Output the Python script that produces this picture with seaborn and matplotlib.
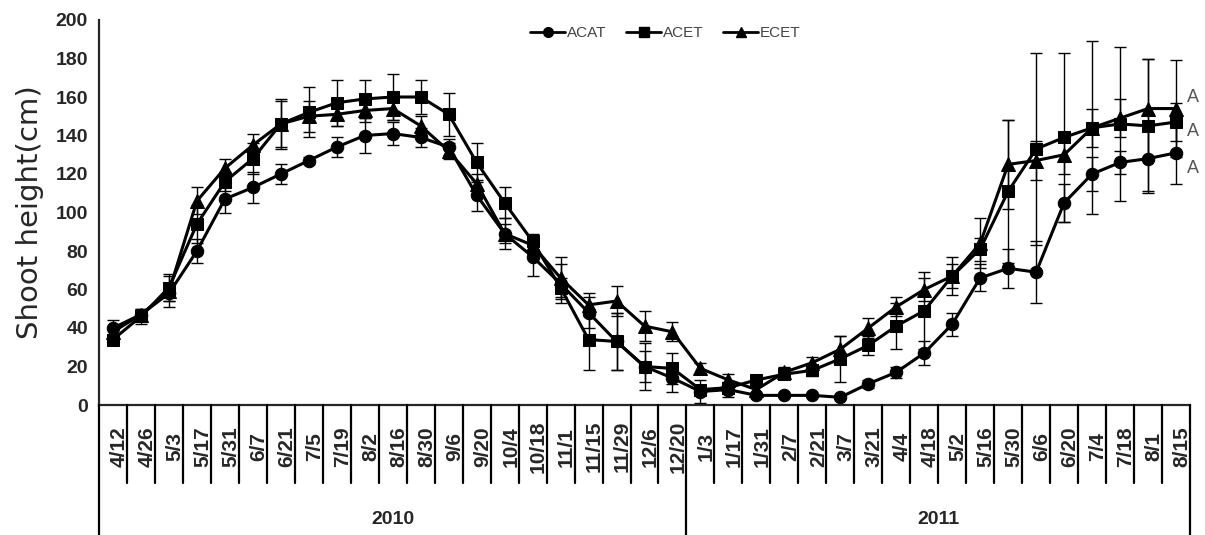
import matplotlib
matplotlib.use("Agg")
import matplotlib.pyplot as plt
import matplotlib.transforms as mtransforms
from matplotlib.lines import Line2D
import seaborn as sns
import numpy as np
import pandas as pd

dates = ["4/12","4/26","5/3","5/17","5/31","6/7","6/21","7/5","7/19","8/2","8/16","8/30",
         "9/6","9/20","10/4","10/18","11/1","11/15","11/29","12/6","12/20",
         "1/3","1/17","1/31","2/7","2/21","3/7","3/21","4/4","4/18","5/2","5/16","5/30",
         "6/6","6/20","7/4","7/18","8/1","8/15"]
years = ["2010", "2011"]
year_counts = [21, 18]

ACAT = [40,47,58,80,107,113,120,127,134,140,141,139,134,109,89,77,63,48,33,20,14,7,8,5,5,5,4,11,17,27,42,66,71,69,105,120,126,128,131]
ACET = [34,46,61,94,116,128,146,152,157,159,160,160,151,126,105,85,61,34,33,20,19,8,9,13,16,18,24,31,41,49,67,81,111,133,139,144,146,145,147]
ECET = [38,47,59,106,123,135,146,150,151,153,154,145,132,115,89,83,66,52,54,41,38,19,13,8,17,22,29,40,51,60,67,84,125,127,130,144,149,154,154]

ACAT_err = [4,3,4,6,7,8,5,2,5,9,6,5,4,8,8,10,10,8,15,8,7,6,4,1,1,1,1,2,3,6,6,7,10,16,10,9,6,17,16]
ACET_err = [2,4,7,10,5,8,13,13,12,10,12,9,11,10,8,4,5,16,15,12,8,2,2,2,2,3,12,5,12,20,10,6,37,50,44,45,40,35,10]
ECET_err = [3,2,8,7,5,6,12,8,6,6,6,5,4,5,5,4,11,6,8,8,5,3,3,2,3,3,7,5,5,6,6,13,23,10,10,10,10,26,25]

letters = ["A", "A", "A"]
letter_y = [160, 142, 123]

sns.set_style("white")
plt.rcParams["font.family"] = ["Liberation Sans", "DejaVu Sans"]

fig = plt.figure(figsize=(12.05, 5.35), dpi=100)
ax = fig.add_axes([99/1205, 130/535, (1190-99)/1205, 385/535])

x = np.arange(len(dates))
series = [("ACAT", ACAT, ACAT_err, "o", 9),
          ("ACET", ACET, ACET_err, "s", 9),
          ("ECET", ECET, ECET_err, "^", 9.5)]

for name, vals, err, mk, ms in series:
    ax.errorbar(x, vals, yerr=err, fmt="none", ecolor="black", elinewidth=1.0,
                capsize=4, capthick=1.0, zorder=2)
for name, vals, err, mk, ms in series:
    df = pd.DataFrame({"x": x, "y": vals})
    sns.lineplot(data=df, x="x", y="y", ax=ax, color="black", linewidth=2.2,
                 marker=mk, markersize=ms, markeredgecolor="black",
                 markerfacecolor="black", zorder=3)

ax.set_xlim(-0.5, len(dates) - 0.5)
ax.set_ylim(0, 200)
ax.set_yticks(range(0, 201, 20))
ax.set_xlabel("")
ax.set_ylabel("Shoot height(cm)", fontsize=21, family=["DejaVu Sans"], labelpad=8)

for s in ["top", "right"]:
    ax.spines[s].set_visible(False)
ax.spines["left"].set_linewidth(1.6)
ax.spines["bottom"].set_linewidth(1.6)
ax.tick_params(axis="y", direction="in", length=7, width=1.4, labelsize=14, pad=8)
for lab in ax.get_yticklabels():
    lab.set_fontweight("bold")

ax.set_xticks(x)
ax.set_xticklabels(dates, rotation=90, fontsize=15, fontweight="bold")
ax.tick_params(axis="x", length=0, pad=30)
offset = mtransforms.ScaledTranslation(6/100, 0, fig.dpi_scale_trans)
for lab in ax.get_xticklabels():
    lab.set_verticalalignment("center")
    lab.set_transform(lab.get_transform() + offset)

trans = mtransforms.blended_transform_factory(ax.transData, ax.transAxes)
y_sep = (405 - 483) / 385
y_bot = (405 - 540) / 385
bounds = np.cumsum([0] + year_counts) - 0.5
for i in range(len(dates) + 1):
    xi = i - 0.5
    full = np.any(np.isclose(bounds, xi))
    ax.plot([xi, xi], [0, y_bot if full else y_sep], transform=trans, color="black",
            lw=1.6, clip_on=False, zorder=5)
for k, yr in enumerate(years):
    xc = (bounds[k] + bounds[k + 1]) / 2
    ax.text(xc, (405 - 520) / 385, yr, transform=trans, ha="center", va="center",
            fontsize=14, fontweight="bold")

for t, yv in zip(letters, letter_y):
    ax.text(len(dates) - 1 + 0.6, yv, t, fontsize=13, color="#555555", ha="center", va="center")

handles = [Line2D([0], [0], color="black", lw=2.0, marker=mk, markersize=7,
                  markerfacecolor="black", markeredgecolor="black")
           for _, _, _, mk, _ in series]
leg = ax.legend(handles, [s[0] for s in series], loc="center", bbox_to_anchor=(0.519, 0.966),
                ncol=3, frameon=False, fontsize=11, handlelength=2.3, handletextpad=0.1,
                columnspacing=1.3)
for t in leg.get_texts():
    t.set_color("#444444")

fig.savefig("out.png", dpi=100)
